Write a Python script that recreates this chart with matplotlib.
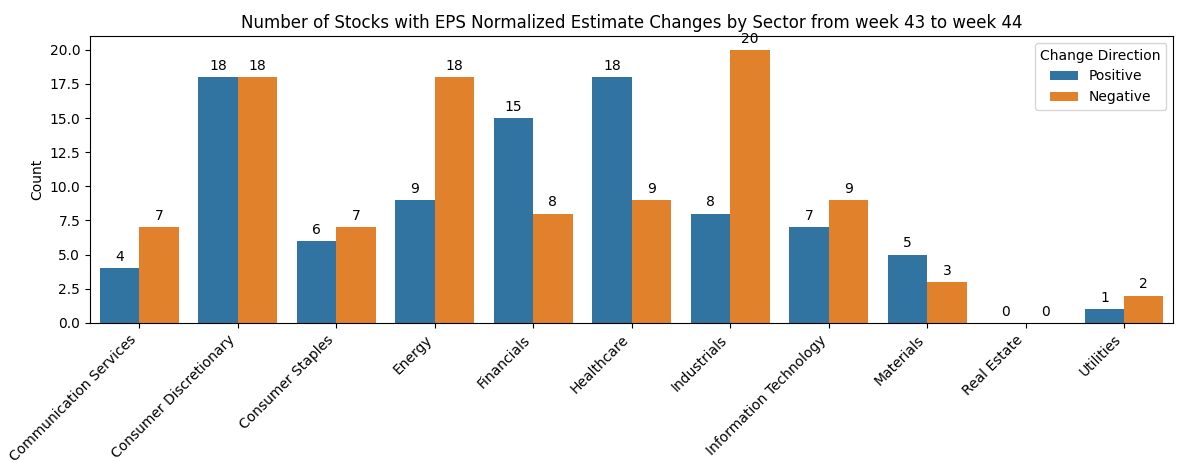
import matplotlib
matplotlib.use('Agg')
import matplotlib.pyplot as plt
import seaborn as sns
import pandas as pd

sectors = ['Communication Services', 'Consumer Discretionary', 'Consumer Staples', 'Energy',
           'Financials', 'Healthcare', 'Industrials', 'Information Technology',
           'Materials', 'Real Estate', 'Utilities']
positive = [4, 18, 6, 9, 15, 18, 8, 7, 5, 0, 1]
negative = [7, 18, 7, 18, 8, 9, 20, 9, 3, 0, 2]

df = pd.DataFrame({
    'Sector': sectors * 2,
    'Count': positive + negative,
    'Change Direction': ['Positive'] * len(sectors) + ['Negative'] * len(sectors),
})

fig, ax = plt.subplots(figsize=(11.84, 4.62), dpi=100)
sns.barplot(data=df, x='Sector', y='Count', hue='Change Direction', ax=ax)

for cont in ax.containers:
    ax.bar_label(cont, padding=3)

ax.set_title('Number of Stocks with EPS Normalized Estimate Changes by Sector from week 43 to week 44')
ax.set_xlabel('')
ax.set_ylabel('Count')
plt.setp(ax.get_xticklabels(), rotation=45, ha='right')
ax.legend(title='Change Direction', loc='upper right')

fig.subplots_adjust(left=0.076, right=0.991, top=0.922, bottom=0.301)
fig.savefig('out.png')
